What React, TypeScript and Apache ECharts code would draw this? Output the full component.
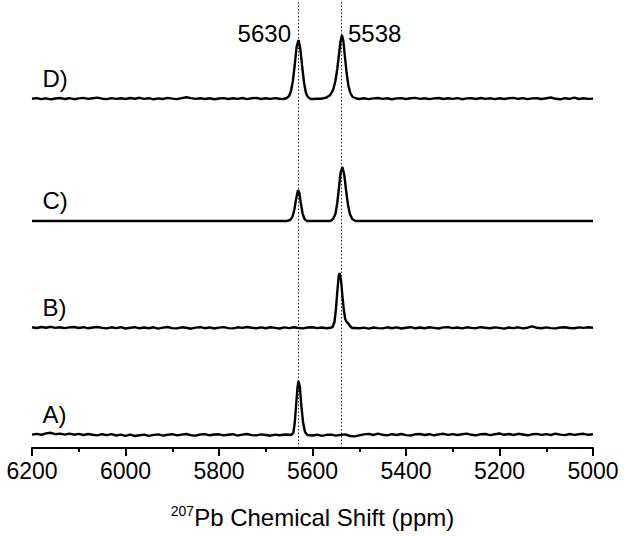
import React, { useEffect, useRef } from "react";
import * as echarts from "echarts";

// ---- axis ----
const X_MIN = 5000;
const X_MAX = 6200;
const X_STEP = 200;
const Y_MAX = 448;
const AXIS_TITLE_SUP = "207";
const AXIS_TITLE = "Pb Chemical Shift (ppm)";

// ---- spectra (intensity in plot units) ----
const SPECTRUM_NAMES = ["A)", "B)", "C)", "D)"];
const SPECTRUM_OFFSETS = [13, 120, 227, 349];
const BASELINE_START = 6200;
const BASELINE_STEP = 10;

const A_NOISE = [
  0.4, 1.1, 0.2, 1.6, 2.2, 0.8, 1.4, 0.3, 1.4, 0.3,
  1.1, 0.0, 1.0, 0.2, -0.4, 0.8, -0.1, 0.9, -0.5, 0.4,
  -0.8, 0.3, -1.0, -0.2, 0.4, -0.9, 0.1, 0.6, -0.6, 0.2,
  0.8, -0.4, 0.4, 1.0, -0.2, -0.6, 0.5, 0.9, -0.3, 0.5,
  0.7, -0.4, 0.3, 0.8, -0.6, 0.4, 1.0, -0.1, -0.4, 0.6,
  0.0, -0.7, 0.4, -0.2, 0.5, 0.2, 0.0, 0.0, 0.0, 0.0,
  -0.5, 0.3, -0.8, 0.2, 0.4, -0.6, 0.1, 0.6, -1.0, -1.4,
  -0.4, 0.6, 1.1, 0.0, 1.3, 0.2, -0.4, 0.8, 0.0, 1.0,
  -0.1, -0.5, 0.7, 1.0, 0.0, 0.8, -0.3, 0.6, 1.2, 0.1,
  0.9, 0.0, 0.7, 1.4, 0.2, -0.4, 0.8, 1.0, -0.1, 0.7,
  1.5, 0.2, 1.0, 0.0, 1.2, 0.5, -0.3, 0.7, 1.1, 0.1,
  0.9, 0.0, 1.3, 0.4, -0.1, 1.0, 0.1, 0.8, 1.2, 0.2,
  0.8,
];
const B_NOISE = [
  0.7, 0.0, 1.0, 0.3, 1.2, 0.1, 0.8, -0.1, 0.6, 1.0,
  0.0, 0.8, -0.3, 0.5, 1.0, 0.1, -0.4, 0.7, -0.1, 0.8,
  -0.5, 0.3, 0.8, -0.3, 0.5, -0.2, 0.7, -0.6, 0.4, 1.0,
  -0.1, -0.4, 0.7, 0.2, -0.7, 0.4, 0.8, -0.2, 0.6, -0.5,
  0.4, 0.9, -0.1, -0.4, 0.7, 0.1, 1.0, 0.2, -0.3, 0.6,
  -0.2, 0.7, 0.1, -0.5, 0.6, -0.1, 0.8, 0.0, -0.4, 0.5,
  0.7, -0.1, 0.5, -0.3, 0.3, 0.6, 0.0, 0.0, 0.0, 0.0,
  -0.2, 0.4, -0.6, 0.5, -0.1, -0.4, 0.7, -0.2, 0.6, -0.5,
  0.3, 0.8, -0.3, 0.5, -0.2, 0.7, 0.1, -0.5, 0.6, 0.9,
  -0.1, 0.5, -0.4, 0.7, 0.1, -0.2, 0.8, 0.2, -0.3, 0.6,
  0.1, -0.6, 0.5, -0.1, 0.7, -0.4, 0.3, 1.6, 0.2, -0.2,
  0.6, -0.1, -0.4, 0.5, 0.8, 0.0, -0.3, 0.6, 0.1, 0.7,
  0.3,
];
const C_BASELINE: [number, number][] = [
  [6200, 0],
  [5000, 0],
];
const D_NOISE = [
  0.3, 0.9, -0.1, 0.7, -0.4, 0.5, 1.0, 0.0, 0.8, -0.2,
  0.6, 1.1, 0.1, 0.8, 1.4, 0.3, -0.1, 0.9, 0.1, 0.7,
  0.0, 1.0, 0.3, 1.2, 0.1, 0.8, -0.3, 0.6, 0.0, 1.1,
  0.4, -0.1, 0.9, 1.8, 0.9, 0.1, 0.8, 0.0, 0.7, -0.2,
  0.5, 0.9, 0.0, 0.8, 0.1, 1.0, -0.1, 0.7, 1.1, 0.0,
  0.8, 0.1, 0.9, 0.2, 0.0, 0.0, 0.0, 0.0, 0.0, 0.0,
  0.0, 0.3, 0.6, 0.1, 0.4, 0.0, 0.0, 0.0, 0.0, 0.0,
  0.0, 0.8, -0.1, 0.6, 1.0, 0.1, 0.7, -0.2, 0.6, 0.9,
  0.0, 0.7, 1.1, 0.1, 0.8, -0.1, 0.6, 1.0, 0.0, 0.7,
  0.1, 0.9, -0.2, 0.6, 0.8, 0.0, 1.0, 0.1, 0.7, -0.1,
  0.8, 0.0, 0.7, 1.1, 0.1, 0.9, -0.1, 0.6, 0.8, 0.0,
  0.7, 1.5, 0.2, -0.3, 0.8, 0.1, 1.3, 0.0, 0.7, 0.1,
  0.4,
];

const A_PEAKS: [number, number][][] = [
  [
    [5646, 0], [5641, 2], [5638, 12], [5635, 30], [5632, 48], [5630, 54],
    [5627, 48], [5624, 30], [5620, 12], [5616, 3], [5611, 0],
  ],
];
const B_PEAKS: [number, number][][] = [
  [
    [5562, 0.2], [5557, 1], [5553, 6], [5550, 18], [5547, 36], [5544, 52],
    [5542, 55], [5539, 48], [5536, 32], [5533, 18], [5530, 9], [5527, 6],
    [5524, 5], [5520, 2], [5515, 0],
  ],
];
const C_PEAKS: [number, number][][] = [
  [
    [5655, 0], [5648, 1], [5643, 4], [5639, 11], [5635, 22], [5631, 31],
    [5628, 28], [5625, 18], [5621, 7], [5617, 2], [5612, 0],
  ],
  [
    [5562, 0], [5556, 2], [5551, 7], [5547, 18], [5543, 35], [5540, 48],
    [5536, 54], [5532, 46], [5528, 30], [5524, 16], [5520, 7], [5515, 2],
    [5508, 0],
  ],
];
const D_PEAKS: [number, number][][] = [
  [
    [5662, 0], [5655, 1], [5650, 3], [5646, 8], [5642, 18], [5638, 34],
    [5634, 52], [5630, 59], [5626, 50], [5622, 32], [5618, 16], [5614, 6],
    [5610, 2], [5604, 0],
  ],
  [
    [5580, 0.3], [5570, 1.5], [5562, 4], [5556, 9], [5551, 18], [5547, 30],
    [5543, 46], [5540, 58], [5537, 64], [5534, 58], [5531, 44], [5527, 26],
    [5523, 13], [5519, 6], [5514, 2], [5506, 0.5],
  ],
];

const MARKED_SHIFTS = [5630, 5538];
const MARKED_LABELS = ["5630", "5538"];

// ---- helpers ----
function noiseToBaseline(noise: number[]): [number, number][] {
  return noise.map((v, i) => [BASELINE_START - i * BASELINE_STEP, v]);
}

function buildSpectrum(
  baseline: [number, number][],
  peaks: [number, number][][],
  offset: number
): [number, number][] {
  const ranges = peaks.map((p) => {
    const xs = p.map((q) => q[0]);
    return [Math.min(...xs), Math.max(...xs)];
  });
  const pts: [number, number][] = baseline.filter(
    ([x]) => !ranges.some(([lo, hi]) => x >= lo && x <= hi)
  );
  peaks.forEach((p) => p.forEach((q) => pts.push([q[0], q[1]])));
  pts.sort((a, b) => b[0] - a[0]);
  return pts.map(([x, y]) => [x, y + offset]);
}

const FONT = "'Liberation Sans', Arial, sans-serif";

export default function App() {
  const ref = useRef<HTMLDivElement>(null);

  useEffect(() => {
    if (!ref.current) return;
    const chart = echarts.init(ref.current, null, { renderer: "svg" });

    const spectra = [
      buildSpectrum(noiseToBaseline(A_NOISE), A_PEAKS, SPECTRUM_OFFSETS[0]),
      buildSpectrum(noiseToBaseline(B_NOISE), B_PEAKS, SPECTRUM_OFFSETS[1]),
      buildSpectrum(C_BASELINE, C_PEAKS, SPECTRUM_OFFSETS[2]),
      buildSpectrum(noiseToBaseline(D_NOISE), D_PEAKS, SPECTRUM_OFFSETS[3]),
    ];

    const labelStyle = {
      show: true,
      color: "#000",
      fontSize: 24,
      fontFamily: FONT,
      formatter: "{b}",
    };

    const series: any[] = spectra.map((data, i) => {
      const markData: any[] = [
        {
          name: SPECTRUM_NAMES[i],
          coord: [X_MAX, SPECTRUM_OFFSETS[i] + 21],
          label: { ...labelStyle, position: "right", distance: 10 },
        },
      ];
      if (i === 3) {
        markData.push({
          name: MARKED_LABELS[0],
          coord: [MARKED_SHIFTS[0], 415],
          label: { ...labelStyle, position: "left", distance: 7 },
        });
        markData.push({
          name: MARKED_LABELS[1],
          coord: [MARKED_SHIFTS[1], 415],
          label: { ...labelStyle, position: "right", distance: 6 },
        });
      }
      const s: any = {
        type: "line",
        name: SPECTRUM_NAMES[i],
        data,
        showSymbol: false,
        symbol: "none",
        smooth: false,
        lineStyle: { color: "#000", width: 2.4 },
        z: 3,
        markPoint: {
          silent: true,
          symbol: "circle",
          symbolSize: 1,
          itemStyle: { color: "rgba(0,0,0,0)" },
          data: markData,
        },
      };
      if (i === 3) {
        s.markLine = {
          silent: true,
          symbol: ["none", "none"],
          label: { show: false },
          lineStyle: { color: "#222", width: 1, type: [1.5, 2] },
          data: MARKED_SHIFTS.map((v) => ({ xAxis: v })),
          z: 1,
        };
      }
      return s;
    });

    chart.setOption({
      animation: false,
      backgroundColor: "#fff",
      grid: { left: 32, right: 31, top: 0, bottom: 88, containLabel: false },
      xAxis: {
        type: "value",
        min: X_MIN,
        max: X_MAX,
        interval: X_STEP,
        inverse: true,
        position: "bottom",
        name: `{sup|${AXIS_TITLE_SUP}}{main|${AXIS_TITLE}}`,
        nameLocation: "middle",
        nameGap: 56,
        nameTextStyle: {
          color: "#000",
          fontFamily: FONT,
          rich: {
            sup: { fontSize: 14, fontFamily: FONT, color: "#000", verticalAlign: "top", lineHeight: 26 },
            main: { fontSize: 24, fontFamily: FONT, color: "#000", lineHeight: 26 },
          },
        },
        axisLine: { show: true, onZero: false, lineStyle: { color: "#000", width: 2 } },
        axisTick: { show: true, inside: false, length: 8, lineStyle: { color: "#000", width: 2 } },
        minorTick: { show: true, splitNumber: 2, length: 4, lineStyle: { color: "#000", width: 2 } },
        splitLine: { show: false },
        minorSplitLine: { show: false },
        axisLabel: {
          color: "#000",
          fontSize: 23,
          fontFamily: FONT,
          margin: 11,
          formatter: (v: number) => String(v),
        },
      },
      yAxis: {
        type: "value",
        min: 0,
        max: Y_MAX,
        show: false,
        splitLine: { show: false },
      },
      series,
    });

    return () => chart.dispose();
  }, []);

  return (
    <div
      ref={ref}
      style={{ position: "absolute", left: 0, top: 0, width: 624, height: 536, background: "#fff" }}
    />
  );
}
